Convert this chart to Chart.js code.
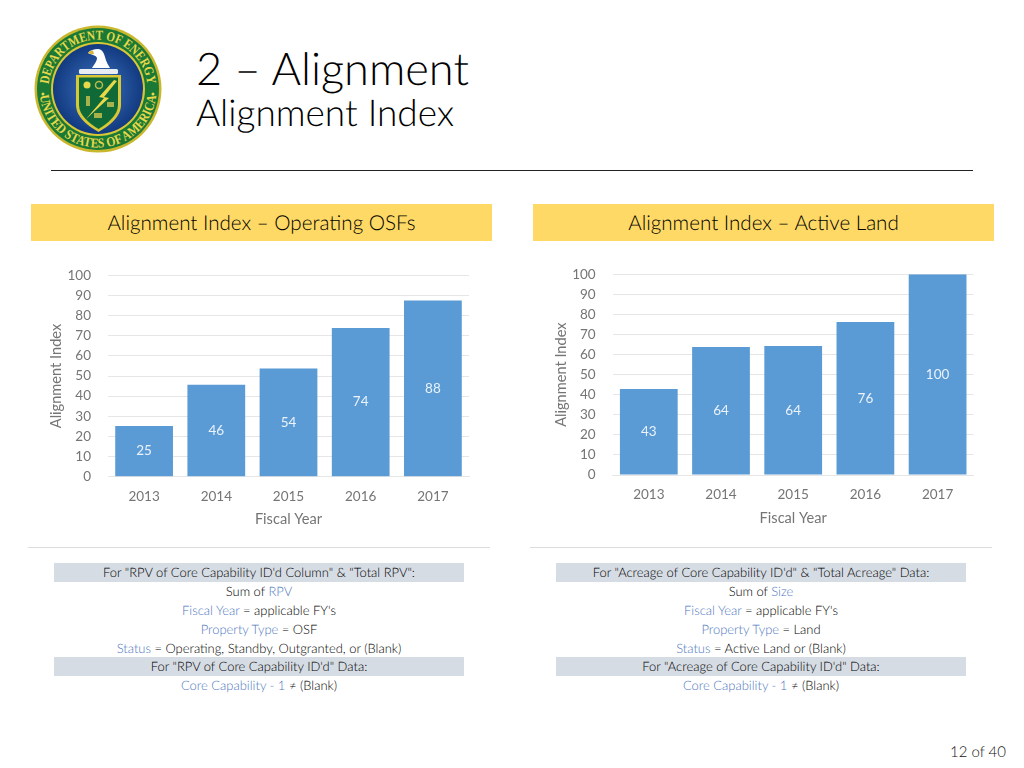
<!DOCTYPE html>
<html>
<head>
<meta charset="utf-8">
<script src="https://cdn.jsdelivr.net/npm/chart.js@4/dist/chart.umd.min.js"></script>
<style>
html,body{margin:0;padding:0;background:#fff;width:1024px;height:768px;overflow:hidden;font-family:Lato,"Open Sans",sans-serif;color:#1a1a1a;text-rendering:geometricPrecision}
.abs{position:absolute}
canvas.abs{display:block}
.t{position:absolute;white-space:nowrap}
.band{position:absolute;background:#ffd966;height:37px;width:461px;top:204px;line-height:38px;text-align:center;font-size:20.6px;font-weight:300;color:#000}
.row{position:absolute;width:410px;height:19px;line-height:19px;text-align:center;font-size:12.95px;font-weight:300;color:#000}
.row.g{background:#d6dce4}
.row b{font-weight:300;color:#4f78c0}
.rule{position:absolute;height:1px}
</style>
</head>
<body>
<svg class="abs" style="left:34px;top:25px" width="128" height="128" viewBox="0 0 128 128">
  <defs>
    <radialGradient id="blue" cx="50%" cy="50%" r="50%"><stop offset="0" stop-color="#3d74c0"/><stop offset="1" stop-color="#123a80"/></radialGradient>
    <path id="arcTop" d="M 14.500 64 A 49.500 49.500 0 0 1 113.500 64"/>
    <path id="arcBot" d="M 5.500 64 A 58.500 58.500 0 0 0 122.500 64"/>
  </defs>
  <circle cx="64" cy="64" r="63.500" fill="#c9b72e"/>
  <circle cx="64" cy="64" r="61" fill="#1a7a35"/>
  <circle cx="64" cy="64" r="47" fill="#d8c737"/>
  <circle cx="64" cy="64" r="45" fill="url(#blue)"/>
  <text font-family="Liberation Serif" font-weight="700" font-size="13.500" fill="#e8d84a"><textPath href="#arcTop" startOffset="50%" text-anchor="middle" textLength="146" lengthAdjust="spacingAndGlyphs">DEPARTMENT OF ENERGY</textPath></text>
  <text font-family="Liberation Serif" font-weight="700" font-size="13.500" fill="#e8d84a"><textPath href="#arcBot" startOffset="50%" text-anchor="middle" textLength="170" lengthAdjust="spacingAndGlyphs">UNITED STATES OF AMERICA</textPath></text>
  <circle cx="9" cy="69" r="1.500" fill="#e8d84a"/>
  <circle cx="119" cy="69" r="1.500" fill="#e8d84a"/>
  <path d="M54 28 C56 25 60 24 64 24 C68 24 70 28 71 32 C72 37 75 41 76 43 L58 43 C60 40 63 36 63 33 C62 30 58 30 54 28 Z" fill="#fff"/>
  <path d="M54 28 C55 26.500 57 25.500 59 25.500 L60 29 C58 29.500 56 29 54 28 Z" fill="#d8b533"/>
  <rect x="45" y="44" width="39" height="5" rx="1.500" fill="#e8edf2"/>
  <path d="M42 50 H87 V80 C87 92 75 101 64.500 107 C54 101 42 92 42 80 Z" fill="#d8c737"/>
  <path d="M45 52.500 H84 V80 C84 90 74 98 64.500 104 C55 98 45 90 45 80 Z" fill="#0f6a37"/>
  <circle cx="53" cy="60" r="3.500" fill="#e8d84a"/>
  <circle cx="65" cy="60" r="3.500" fill="none" stroke="#bcb94a" stroke-width="1.500"/>
  <path d="M80 55 L65 72 L70 73 L52 94 L75 73 L70 72 L83 56 Z" fill="#e8d84a"/>
  <path d="M52 71 h4 v10 h-4 Z M73 77 h7 v5 h-7 Z M60 88 h8 v5 h-8 Z" fill="#a8b24a"/>
</svg>

<div class="t" style="left:196px;top:40px;font-size:45.200px;font-weight:300;line-height:56px;color:#000">2 – Alignment</div>
<div class="t" style="left:196px;top:89px;font-size:37px;font-weight:300;line-height:46px;color:#000">Alignment Index</div>
<div class="rule" style="left:51px;top:170px;width:922px;background:#222"></div>

<div class="band" style="left:31px">Alignment Index – Operating OSFs</div>
<div class="band" style="left:533px">Alignment Index – Active Land</div>

<canvas id="c1" class="abs" style="left:40px;top:262px" width="440" height="270"></canvas>
<canvas id="c2" class="abs" style="left:545px;top:261px" width="440" height="270"></canvas>

<div class="rule" style="left:28px;top:547px;width:462px;background:#dcdcdc"></div>
<div class="rule" style="left:530px;top:547px;width:462px;background:#dcdcdc"></div>

<div class="row g" style="left:54px;top:563px">For "RPV of Core Capability ID'd Column" &amp; "Total RPV":</div>
<div class="row" style="left:54px;top:582px">Sum of <b>RPV</b></div>
<div class="row" style="left:54px;top:601px"><b>Fiscal Year</b> = applicable FY's</div>
<div class="row" style="left:54px;top:619.500px"><b>Property Type</b> = OSF</div>
<div class="row" style="left:54px;top:638.500px"><b>Status</b> = Operating, Standby, Outgranted, or (Blank)</div>
<div class="row g" style="left:54px;top:657px">For "RPV of Core Capability ID'd" Data:</div>
<div class="row" style="left:54px;top:676px"><b>Core Capability - 1</b> ≠ (Blank)</div>

<div class="row g" style="left:556px;top:563px">For "Acreage of Core Capability ID'd" &amp; "Total Acreage" Data:</div>
<div class="row" style="left:556px;top:582px">Sum of <b>Size</b></div>
<div class="row" style="left:556px;top:601px"><b>Fiscal Year</b> = applicable FY's</div>
<div class="row" style="left:556px;top:619.500px"><b>Property Type</b> = Land</div>
<div class="row" style="left:556px;top:638.500px"><b>Status</b> = Active Land or (Blank)</div>
<div class="row g" style="left:556px;top:657px">For "Acreage of Core Capability ID'd" Data:</div>
<div class="row" style="left:556px;top:676px"><b>Core Capability - 1</b> ≠ (Blank)</div>

<div class="t" style="right:18px;top:743px;font-size:15px;font-weight:300;line-height:18px;color:#111">12 of 40</div>

<script>
const years = ['2013','2014','2015','2016','2017'];
const osfValues = [25.2, 45.6, 53.7, 73.8, 87.5];
const landValues = [42.9, 63.8, 64.3, 76.2, 100];
const yTicks = [0,10,20,30,40,50,60,70,80,90,100];

const FONT = 'Lato, "Open Sans", sans-serif';
const barLabels = {
  id: 'barLabels',
  afterDatasetsDraw(chart) {
    const ctx = chart.ctx;
    const ds = chart.data.datasets[0];
    ctx.save();
    ctx.font = '13.5px ' + FONT;
    ctx.fillStyle = '#eaf2fa';
    ctx.textAlign = 'center';
    ctx.textBaseline = 'middle';
    chart.getDatasetMeta(0).data.forEach((el, i) => {
      ctx.fillText(String(Math.round(ds.data[i])), el.x, (el.y + el.base) / 2);
    });
    ctx.restore();
  }
};

function makeChart(id, values, yWidth, pad, xHeight) {
  new Chart(document.getElementById(id), {
    type: 'bar',
    data: { labels: years, datasets: [{ data: values, backgroundColor: '#5b9bd5', borderWidth: 0, categoryPercentage: 0.8, barPercentage: 1 }] },
    plugins: [barLabels],
    options: {
      responsive: false,
      animation: false,
      layout: { padding: pad },
      plugins: { legend: { display: false }, tooltip: { enabled: false }, title: { display: false } },
      scales: {
        x: {
          grid: { display: false },
          border: { color: '#e6e6e6', width: 1 },
          ticks: { color: '#757575', font: { size: 13.5, family: FONT }, padding: 4, maxRotation: 0 },
          title: { display: true, text: 'Fiscal Year', color: '#757575', font: { size: 14.6, family: FONT }, padding: { top: 0, bottom: 4 } },
          afterFit(s) { s.height = xHeight; }
        },
        y: {
          min: 0, max: 100,
          afterBuildTicks(s) { s.ticks = yTicks.map(v => ({ value: v })); },
          grid: { color: '#e6e6e6', drawTicks: false, lineWidth: 1 },
          border: { display: false },
          ticks: { color: '#757575', font: { size: 13.5, family: FONT }, padding: 17, autoSkip: false },
          title: { display: true, text: 'Alignment Index', color: '#757575', font: { size: 14.6, family: FONT }, padding: { top: 8, bottom: 0 } },
          afterFit(s) { s.width = yWidth; s.paddingTop = 0; s.paddingBottom = 0; }
        }
      }
    }
  });
}
makeChart('c1', osfValues, 68, { left: 0, right: 11, top: 13.3, bottom: 0 }, 55.3);
makeChart('c2', landValues, 67.7, { left: 0, right: 11.3, top: 13.3, bottom: 0 }, 56);
</script>
</body>
</html>
